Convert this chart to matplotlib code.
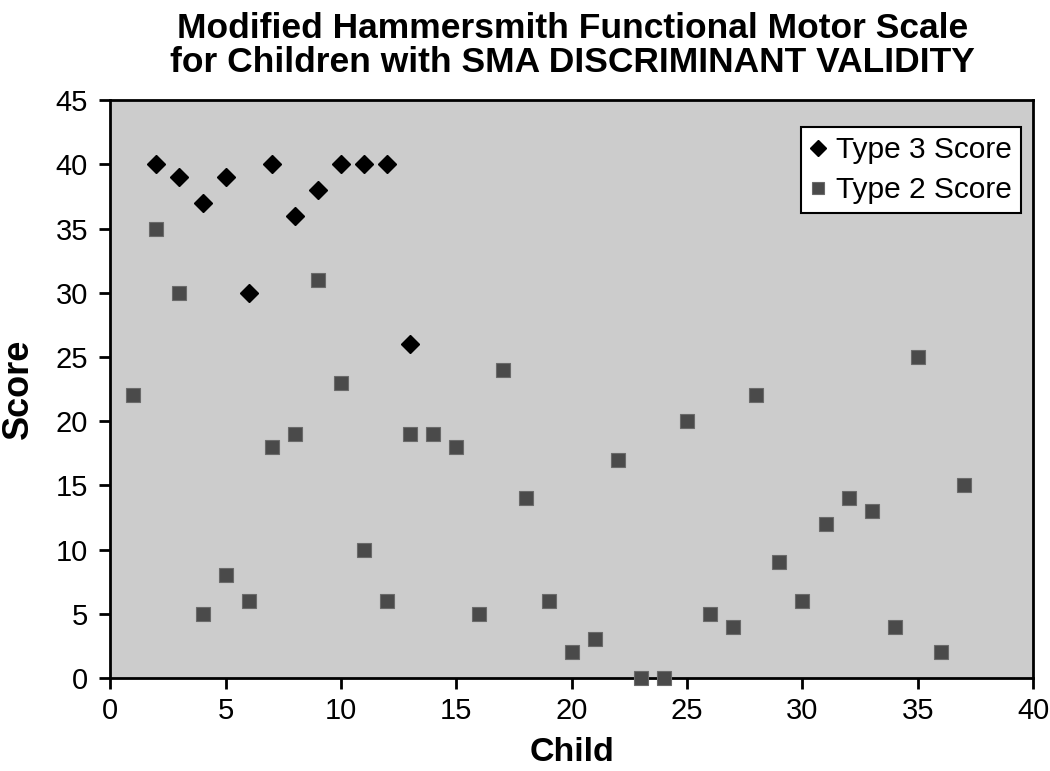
import numpy as np
import matplotlib.pyplot as plt

plt.rcParams['font.family'] = ['Liberation Sans', 'DejaVu Sans']

# Type 3 children
child3 = [2, 3, 4, 5, 6, 7, 8, 9, 10, 11, 12, 13]
score3 = [40, 39, 37, 39, 30, 40, 36, 38, 40, 40, 40, 26]

# Type 2 children
child2 = list(range(1, 38))
score2 = [22, 35, 30, 5, 8, 6, 18, 19, 31, 23, 10, 6, 19, 19, 18, 5, 24, 14,
          6, 2, 3, 17, 0, 0, 20, 5, 4, 22, 9, 6, 12, 14, 13, 4, 25, 2, 15]

fig = plt.figure(figsize=(10.5, 7.71), dpi=100)
ax = fig.add_axes([0.105, 0.1206, 0.879, 0.7496])
ax.set_facecolor('#cccccc')

ax.plot(child3, score3, 'D', ms=9, color='black', mec='black', clip_on=False,
        label='Type 3 Score', zorder=3)
ax.plot(child2, score2, 's', ms=9.5, color='#4a4a4a', mec='#6a6a6a', mew=0.8,
        clip_on=False, label='Type 2 Score', zorder=3)

ax.set_xlim(0, 40)
ax.set_ylim(0, 45)
ax.set_xticks(np.arange(0, 41, 5))
ax.set_yticks(np.arange(0, 46, 5))
ax.tick_params(direction='out', length=8, width=2, labelsize=21)
ax.tick_params(axis='x', pad=6)
ax.tick_params(axis='y', pad=8)
for s in ax.spines.values():
    s.set_linewidth(2)

ax.set_xlabel('Child', fontsize=24.5, fontweight='bold', labelpad=8)
ax.set_ylabel('Score', fontsize=26, fontweight='bold', labelpad=14)
fig.text(0.545, 0.985, 'Modified Hammersmith Functional Motor Scale\n'
         'for Children with SMA DISCRIMINANT VALIDITY',
         fontsize=25.5, fontweight='bold', ha='center', va='top',
         linespacing=1.05)

leg = ax.legend(loc='upper right', fontsize=21.5, frameon=True, fancybox=False,
                handletextpad=0.3, handlelength=0.6, borderpad=0.3,
                labelspacing=0.4, borderaxespad=0,
                bbox_to_anchor=(0.987, 0.953))
leg.get_frame().set_edgecolor('black')
leg.get_frame().set_linewidth(1.5)
leg.get_frame().set_facecolor('white')
leg.get_frame().set_alpha(1)
for h in leg.legend_handles:
    h.set_markersize(8.5)

fig.savefig('out.png', dpi=100)
